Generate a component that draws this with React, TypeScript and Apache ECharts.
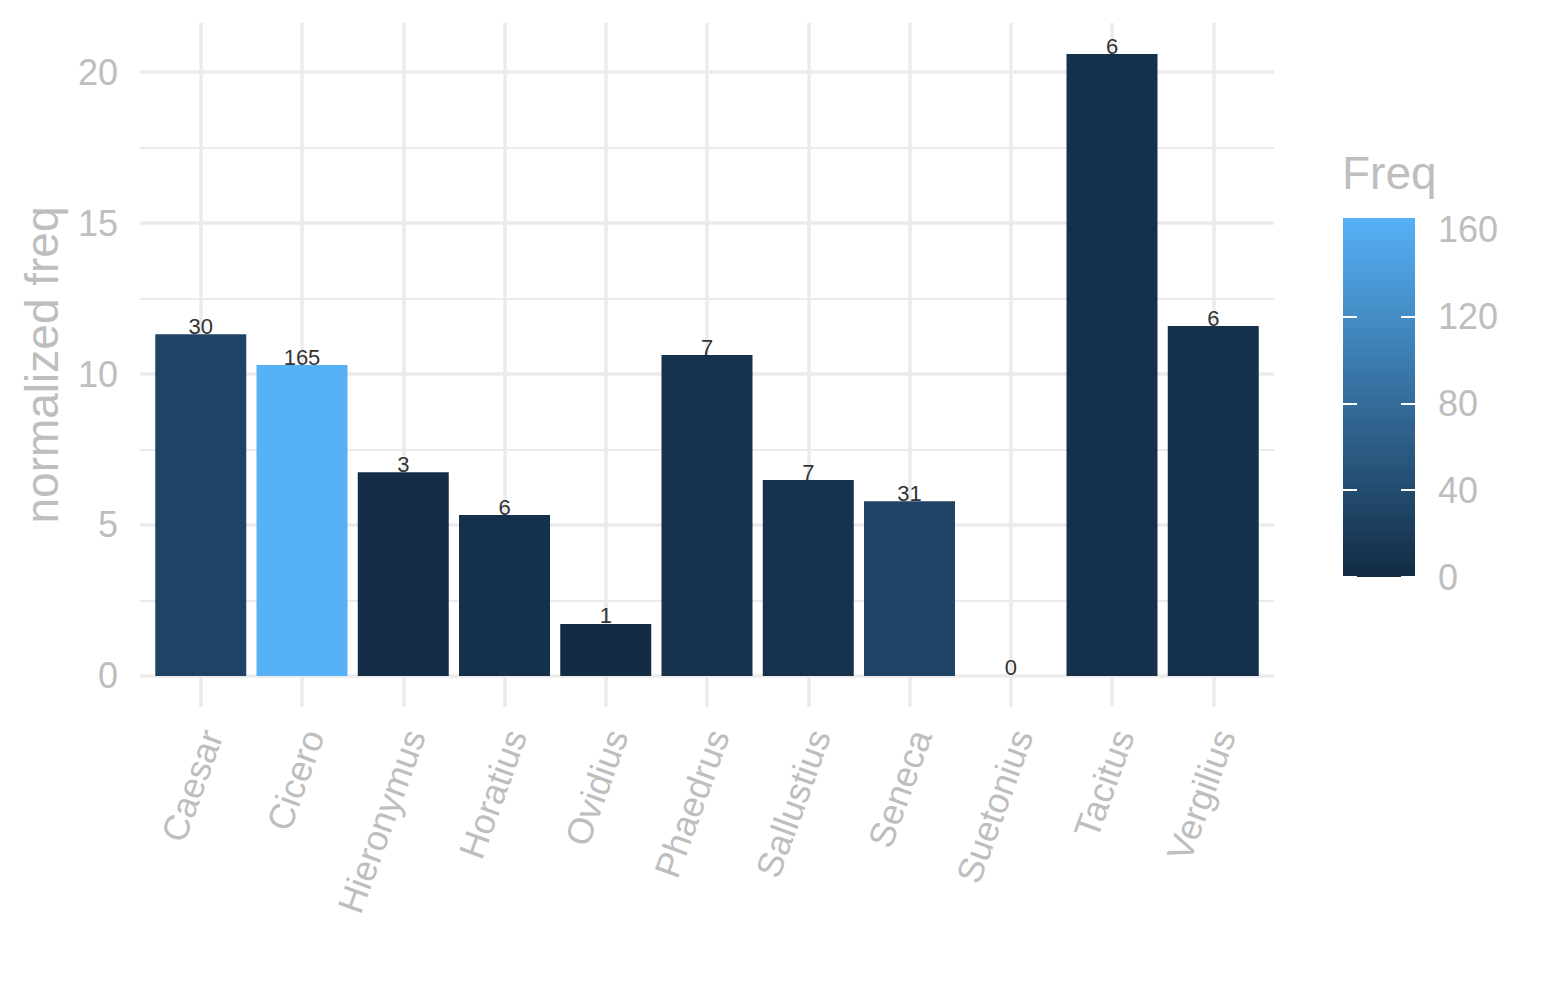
import * as echarts from 'echarts';
import { useEffect, useRef } from 'react';

const authors = [
  'Caesar', 'Cicero', 'Hieronymus', 'Horatius', 'Ovidius', 'Phaedrus',
  'Sallustius', 'Seneca', 'Suetonius', 'Tacitus', 'Vergilius',
];
const normFreq = [11.32, 10.3, 6.75, 5.33, 1.72, 10.63, 6.49, 5.79, 0, 20.6, 11.59];
const freq = [30, 165, 3, 6, 1, 7, 7, 31, 0, 6, 6];
const yMajor = [0, 5, 10, 15, 20];
const yMinor = [2.5, 7.5, 12.5, 17.5];
const legendTicks = [0, 40, 80, 120, 160];

const GREY = '#BEBEBE';
const GRID = '#EBEBEB';
const LOW = '#132B43';
const HIGH = '#56B1F7';

function App() {
  const chartRef = useRef(null);

  useEffect(() => {
    document.body.style.margin = '0';
    const myChart = echarts.init(chartRef.current, null, { renderer: 'svg' });

    const positions = authors.map((_, i) => i + 1);
    const yMax = 21.63;
    const yMin = -1.03;
    const fMax = Math.max(...freq);

    const option = {
      animation: false,
      textStyle: { fontFamily: 'Liberation Sans' },
      title: {
        text: 'Freq',
        left: 1337,
        top: 145,
        textStyle: { fontSize: 46, fontWeight: 'normal', color: GREY },
      },
      grid: [
        { left: 140, top: 23, width: 1134, height: 684, containLabel: false },
        {
          left: 1343, top: 218, width: 72, height: 359, show: true, borderWidth: 0,
          backgroundColor: new echarts.graphic.LinearGradient(0, 0, 0, 1, [
            { offset: 0, color: HIGH },
            { offset: 1, color: LOW },
          ]),
        },
      ],
      xAxis: [
        {
          type: 'value',
          gridIndex: 0,
          min: 0.4,
          max: 11.6,
          axisLine: { show: false },
          axisTick: { show: false, customValues: positions },
          splitLine: { show: true, lineStyle: { color: GRID, width: 3.5 } },
          axisLabel: {
            customValues: positions,
            formatter: (v: number) => authors[Math.round(v) - 1] ?? '',
            rotate: 70,
            fontSize: 36,
            color: GREY,
            margin: 20,
            verticalAlign: 'top',
            lineHeight: 24,
          },
        },
        { type: 'value', gridIndex: 1, min: 0, max: 1, show: false },
      ],
      yAxis: [
        {
          type: 'value',
          gridIndex: 0,
          min: yMin,
          max: yMax,
          name: 'normalized freq',
          nameLocation: 'middle',
          nameGap: 75,
          nameTextStyle: { fontSize: 46, color: GREY },
          axisLine: { show: false },
          axisTick: { show: false, customValues: yMajor },
          axisLabel: { customValues: yMajor, fontSize: 36, color: GREY, margin: 22 },
          splitLine: { show: true, lineStyle: { color: GRID, width: 3.5 } },
        },
        {
          type: 'value',
          gridIndex: 0,
          min: yMin,
          max: yMax,
          position: 'left',
          axisLine: { show: false },
          axisTick: { show: false, customValues: yMinor },
          axisLabel: { show: false, customValues: yMinor },
          splitLine: { show: true, lineStyle: { color: GRID, width: 1.8 } },
        },
        {
          // colour bar scale: labels on the right, white ticks on both edges
          type: 'value',
          gridIndex: 1,
          min: 0,
          max: 165.5,
          position: 'right',
          axisLine: { show: false },
          axisTick: { show: false, customValues: legendTicks },
          axisLabel: { customValues: legendTicks, fontSize: 36, color: GREY, margin: 23 },
          splitLine: {
            show: true,
            showMinLine: true,
            showMaxLine: false,
            lineStyle: { color: '#FFFFFF', width: 2, type: [14, 44] },
          },
        },
      ],
      visualMap: {
        show: false,
        type: 'continuous',
        seriesIndex: 0,
        dimension: 2,
        min: 0,
        max: fMax,
        inRange: { color: [LOW, HIGH] },
      },
      series: [
        {
          type: 'bar',
          xAxisIndex: 0,
          yAxisIndex: 0,
          barWidth: 91,
          data: authors.map((_, i) => [positions[i], normFreq[i], freq[i]]),
          encode: { x: 0, y: 1 },
          label: {
            show: true,
            position: 'top',
            distance: -3,
            fontSize: 22,
            color: '#333333',
            formatter: (p: any) => String(p.value[2]),
          },
        },
      ],
    };

    myChart.setOption(option);

    return () => {
      myChart.dispose();
    };
  }, []);

  return <div ref={chartRef} style={{ width: '1545px', height: '1000px' }}></div>;
}

export default App;
